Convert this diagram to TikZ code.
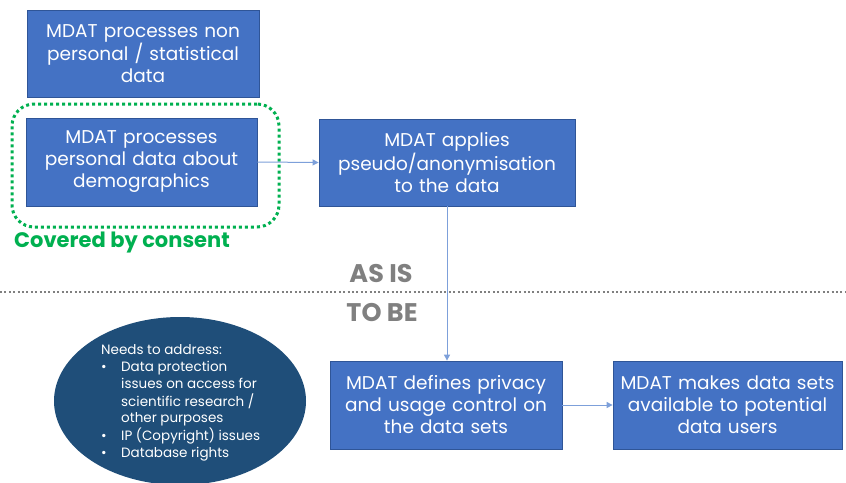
\documentclass[tikz,border=0pt]{standalone}
\usepackage{fontspec}
\setmainfont{Poppins}
\usetikzlibrary{shapes.geometric,arrows.meta}
\definecolor{boxblue}{RGB}{68,114,196}
\definecolor{boxedge}{RGB}{47,85,151}
\definecolor{linkblue}{RGB}{125,160,218}
\definecolor{navy}{RGB}{31,78,121}
\definecolor{consentgreen}{RGB}{0,176,80}
\definecolor{labelgray}{RGB}{128,128,128}
\tikzset{
  stepbox/.style={draw=boxedge, line width=0.8pt, fill=boxblue, text=white,
    align=center, inner sep=1pt, font=\fontsize{18.5}{22}\selectfont},
  link/.style={draw=linkblue, line width=1pt,
    -{Triangle[length=6pt,width=6pt]}},
}
\begin{document}
\begin{tikzpicture}[x=1pt,y=-1pt]
\useasboundingbox (0,0) rectangle (846,482);
\fill[white] (0,0) rectangle (846,482);

% as-is / to-be divider
\draw[labelgray, line width=2pt, dash pattern=on 2pt off 2.4pt] (0,292) -- (846,292);
\node[font=\fontsize{25.5}{28}\selectfont\bfseries, text=labelgray] (asis) at (381,274) {AS IS};
\node[font=\fontsize{25.5}{28}\selectfont\bfseries, text=labelgray] (tobe) at (382,313) {TO BE};

% consent frame
\node[draw=consentgreen, line width=3pt, dash pattern=on 3pt off 3pt,
      rounded corners=22pt, minimum width=267pt, minimum height=123pt]
      (consent) at (145.5,165.5) {};
\node[anchor=west, text=consentgreen, font=\fontsize{21}{24}\selectfont\bfseries,
      inner sep=0pt] (consentlbl) at (14,243) {Covered by consent};

% process steps
\node[stepbox, minimum width=232pt, minimum height=87pt, text width=228pt]
  (nonpers) at (143,53.5) {MDAT processes non\\personal / statistical\\data};
\node[stepbox, minimum width=231pt, minimum height=88pt, text width=227pt]
  (pers) at (141.5,162) {MDAT processes\\personal data about\\demographics};
\node[stepbox, minimum width=256pt, minimum height=87pt, text width=252pt]
  (anon) at (447,162.5) {MDAT applies\\pseudo/anonymisation\\to the data};
\node[stepbox, minimum width=232pt, minimum height=88pt, text width=228pt]
  (privacy) at (446,405) {MDAT defines privacy\\and usage control on\\the data sets};
\node[stepbox, minimum width=229pt, minimum height=88pt, text width=225pt]
  (avail) at (727.5,405) {MDAT makes data sets\\available to potential\\data users};

% connectors
\draw[link] (pers.east) -- (anon.west);
\draw[link] (anon.south) -- (anon.south |- privacy.north);
\draw[link] (privacy.east) -- (avail.west);

% open issues
\node[ellipse, fill=navy, minimum width=252pt, minimum height=168pt] (issues) at (180,401) {};
\node[anchor=north west, text=white, inner sep=0pt,
      font=\fontsize{13.5}{16.7}\selectfont] (issuetext) at (101,343) {%
  \begin{tabular}{@{}p{20pt}@{}l@{}}
  \multicolumn{2}{@{}l}{Needs to address:}\\
  \textbullet & Data protection\\
  & issues on access for\\
  & scientific research /\\
  & other purposes\\
  \textbullet & IP (Copyright) issues\\
  \textbullet & Database rights
  \end{tabular}};
\end{tikzpicture}
\end{document}
